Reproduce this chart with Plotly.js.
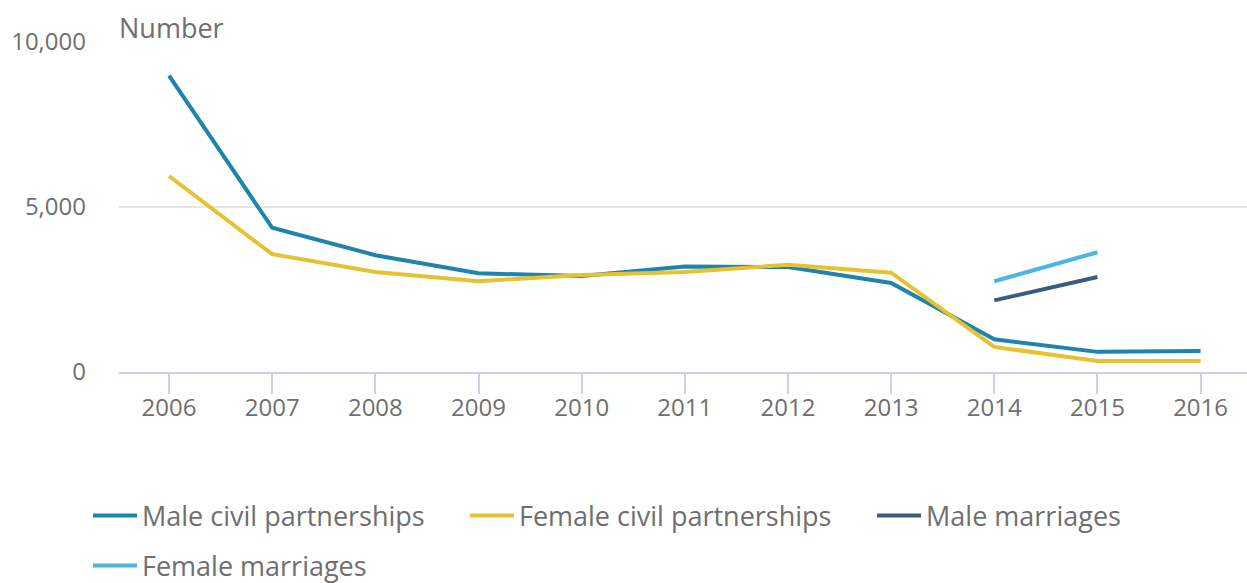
<!DOCTYPE html>
<html>
<head>
<meta charset="utf-8">
<script src="https://cdn.plot.ly/plotly-3.0.1.min.js"></script>
<style>html,body{margin:0;padding:0;background:#fff;}#chart{width:1247px;height:583px;}</style>
</head>
<body>
<div id="chart"></div>
<script>
const years = [2006, 2007, 2008, 2009, 2010, 2011, 2012, 2013, 2014, 2015, 2016];
const maleCivilPartnerships = [8980, 4370, 3540, 2990, 2910, 3200, 3180, 2700, 990, 610, 640];
const femaleCivilPartnerships = [5940, 3570, 3030, 2750, 2940, 3030, 3250, 3010, 760, 335, 335];
const maleMarriages = [null, null, null, null, null, null, null, null, 2170, 2880, null];
const femaleMarriages = [null, null, null, null, null, null, null, null, 2750, 3630, null];
const yTickVals = [0, 5000, 10000];
const yTickText = ['0', '5,000', '10,000'];

const font = "'Open Sans', sans-serif";
const grey = '#6f6f6f';

const traces = [
  {x: years, y: maleCivilPartnerships, name: 'Male civil partnerships', mode: 'lines', line: {color: '#1e84ab', width: 4}, legend: 'legend'},
  {x: years, y: femaleCivilPartnerships, name: 'Female civil partnerships', mode: 'lines', line: {color: '#e6c232', width: 4}, legend: 'legend2'},
  {x: years, y: maleMarriages, name: 'Male marriages', mode: 'lines', line: {color: '#3b5c7e', width: 4}, legend: 'legend3'},
  {x: years, y: femaleMarriages, name: 'Female marriages', mode: 'lines', line: {color: '#4db5e0', width: 4}, legend: 'legend4'}
];

function legendAt(x, y) {
  return {
    x: x, y: y,
    orientation: 'h', xanchor: 'left', yanchor: 'middle',
    font: {family: font, size: 27, color: grey},
    itemwidth: 44, bgcolor: 'rgba(0,0,0,0)', traceorder: 'normal'
  };
}

const layout = {
  width: 1247, height: 583,
  margin: {l: 119, r: 0, t: 42, b: 211, autoexpand: false},
  paper_bgcolor: '#fff', plot_bgcolor: '#fff',
  font: {family: font, size: 24, color: grey},
  showlegend: true,
  xaxis: {
    range: [2005.515, 2016.45], tickvals: years, ticktext: years.map(String),
    showgrid: false, zeroline: false, showline: true, linecolor: '#c8d3ea', linewidth: 2,
    ticks: 'outside', ticklen: 20, tickwidth: 2, tickcolor: '#c8d3ea', ticklabelstandoff: -7,
    tickfont: {family: font, size: 24, color: grey}, fixedrange: true, automargin: false
  },
  yaxis: {
    range: [0, 10000], tickvals: yTickVals, ticktext: yTickText,
    showgrid: true, gridcolor: '#e5e5e5', gridwidth: 2, zeroline: false, showline: false,
    ticks: '', ticklabelstandoff: 32,
    tickfont: {family: font, size: 24, color: grey}, fixedrange: true, automargin: false
  },
  legend: legendAt(-0.0275, -0.436),
  legend2: legendAt(0.3067, -0.436),
  legend3: legendAt(0.6676, -0.436),
  legend4: legendAt(-0.0275, -0.588),
  annotations: [{
    text: 'Number', xref: 'paper', yref: 'paper', x: 0, y: 1, xanchor: 'left', yanchor: 'bottom',
    xshift: -2, yshift: -6, showarrow: false, font: {family: font, size: 27, color: grey}
  }]
};

Plotly.newPlot('chart', traces, layout, {displayModeBar: false, staticPlot: true});
</script>
</body>
</html>
